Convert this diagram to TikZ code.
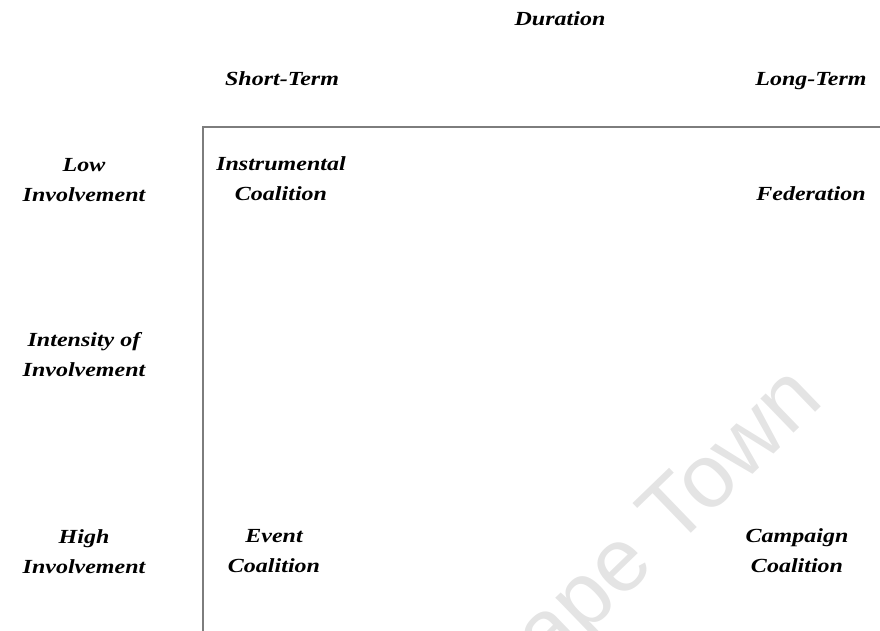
\documentclass[tikz,border=0pt]{standalone}
\usepackage{fontspec}
\setmainfont{Liberation Serif}
\newfontfamily\labelfont[FakeStretch=1.2]{Liberation Serif}
\newfontfamily\markfont{Liberation Sans}
\usetikzlibrary{positioning}
\definecolor{axisGray}{RGB}{125, 125, 125}
\definecolor{markGray}{RGB}{228, 228, 228}
\tikzset{
    % Label Style (base = last line)
    label/.style={
        align=center,
        anchor=base,
        inner sep=0pt,
        font=\labelfont\fontsize{20}{30}\selectfont\bfseries\itshape
    },
    % Axis & Watermark Styles
    axis/.style={draw=axisGray, line width=1.6pt},
    watermark/.style={text=markGray, font=\markfont\fontsize{90}{90}\selectfont, rotate=44, anchor=base east, inner sep=0pt}
}
\begin{document}
\begin{tikzpicture}[x=1pt, y=1pt]

    \useasboundingbox (0,0) rectangle (880,631);

    % --- Watermark ---
    \begin{scope}
        \clip (0,0) rectangle (880,631);
        \node (mark) [watermark] at (826,228) {University of Cape Town};
    \end{scope}

    % --- Axes ---
    \coordinate (corner) at (203,504);
    \coordinate (axisEnd) at (880,504);
    \coordinate (axisFoot) at (203,0);
    \draw [axis] (axisEnd) -- (corner) -- (axisFoot);

    % --- Column Headings (Duration) ---
    \node (duration) [label] at (560,605) {Duration};
    \node (short) [label] at (282,545) {Short-Term};
    \node (long) [label] at (811,545) {Long-Term};

    % --- Row Headings (Intensity) ---
    \node (low) [label] at (84,429) {Low\\Involvement};
    \node (intensity) [label] at (84,254) {Intensity of\\Involvement};
    \node (high) [label] at (84,57) {High\\Involvement};

    % --- Coalition Types ---
    \node (instr) [label] at (281,430) {Instrumental\\Coalition};
    \node (fed) [label] at (811,430) {Federation};
    \node (event) [label] at (274,58) {Event\\Coalition};
    \node (camp) [label] at (797,58) {Campaign\\Coalition};

\end{tikzpicture}
\end{document}
